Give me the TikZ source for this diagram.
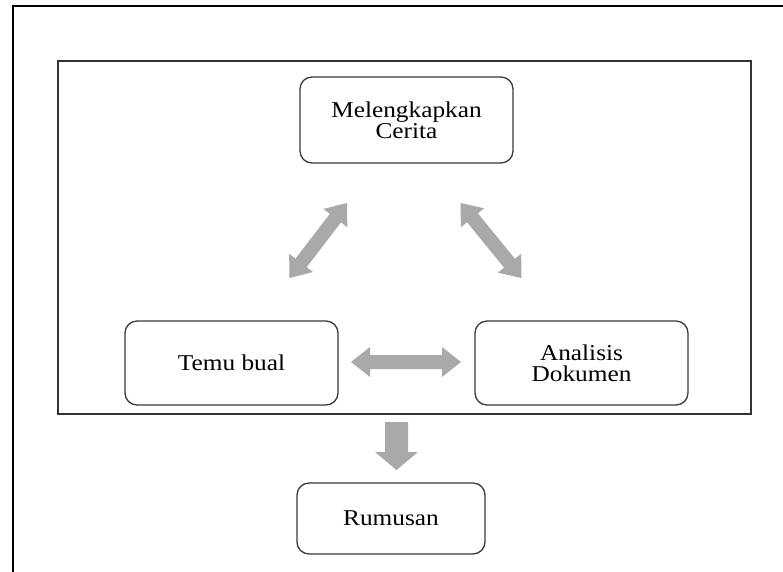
\documentclass[tikz,border=0pt]{standalone}
\usepackage{fontspec}
\setmainfont{Liberation Serif}
\newfontfamily\boxfont{Liberation Serif}[FakeStretch=1.12]
\usetikzlibrary{calc}
\definecolor{arrowgray}{HTML}{A9A9A9}
\definecolor{boxline}{HTML}{3A3A3A}
\lineskiplimit=-20pt
\tikzset{
  stepbox/.style={draw=boxline, line width=1.3pt, rounded corners=12pt, align=center,
    inner sep=0pt, font=\boxfont\fontsize{22.6}{21}\selectfont},
  blockarrow/.style={fill=arrowgray},
  frameline/.style={draw=black, line width=2pt},
  innerframe/.style={draw=black!80, line width=1.2pt}
}
% double block arrow: from, to, half shaft width, half head width, head length
\newcommand{\dblblock}[5]{%
  \path ($(#1)!#5!(#2)$) coordinate (#1-hb) ($(#2)!#5!(#1)$) coordinate (#2-hb);
  \fill[blockarrow] (#1) -- ($(#1-hb)!#4!90:(#2)$) -- ($(#1-hb)!#3!90:(#2)$)
    -- ($(#2-hb)!#3!-90:(#1)$) -- ($(#2-hb)!#4!-90:(#1)$) -- (#2)
    -- ($(#2-hb)!#4!90:(#1)$) -- ($(#2-hb)!#3!90:(#1)$)
    -- ($(#1-hb)!#3!-90:(#2)$) -- ($(#1-hb)!#4!-90:(#2)$) -- cycle;}
% single block arrow: tail, tip, half shaft width, half head width, head length
\newcommand{\oneblock}[5]{%
  \path ($(#2)!#5!(#1)$) coordinate (#2-hb);
  \fill[blockarrow] ($(#1)!#3!90:(#2)$) -- ($(#2-hb)!#3!-90:(#1)$) -- ($(#2-hb)!#4!-90:(#1)$)
    -- (#2) -- ($(#2-hb)!#4!90:(#1)$) -- ($(#2-hb)!#3!90:(#1)$) -- ($(#1)!#3!-90:(#2)$) -- cycle;}
\begin{document}
\begin{tikzpicture}[x=1pt, y=-1pt]
\useasboundingbox (0,0) rectangle (783,571);
\fill[white] (0,0) rectangle (783,571);
% outer frame (only left and top edges visible)
\draw[frameline] (13,575) -- (13,6) -- (790,6);
% inner frame
\draw[innerframe] (58,61) rectangle (751,414);
% boxes
\node[stepbox, minimum width=213pt, minimum height=86pt] (mc) at (406.5,120) {Melengkapkan\\Cerita};
\node[stepbox, minimum width=213pt, minimum height=84pt] (tb) at (231.5,363) {Temu bual};
\node[stepbox, minimum width=213pt, minimum height=84pt] (ad) at (581.5,363) {Analisis\\Dokumen};
\node[stepbox, minimum width=188pt, minimum height=71pt] (rm) at (391,518.5) {Rumusan};
% arrow ends
\coordinate (l1) at (289.5,278);
\coordinate (l2) at (347,203);
\coordinate (r1) at (460.5,203);
\coordinate (r2) at (521.5,278);
\coordinate (h1) at (351,362);
\coordinate (h2) at (461,362);
\coordinate (d1) at (396.5,422);
\coordinate (d2) at (396.5,470);
\dblblock{l1}{l2}{7pt}{15pt}{19pt}
\dblblock{r1}{r2}{7pt}{15pt}{19pt}
\dblblock{h1}{h2}{7pt}{15pt}{19pt}
\oneblock{d1}{d2}{11.5pt}{21.5pt}{18pt}
\end{tikzpicture}
\end{document}
